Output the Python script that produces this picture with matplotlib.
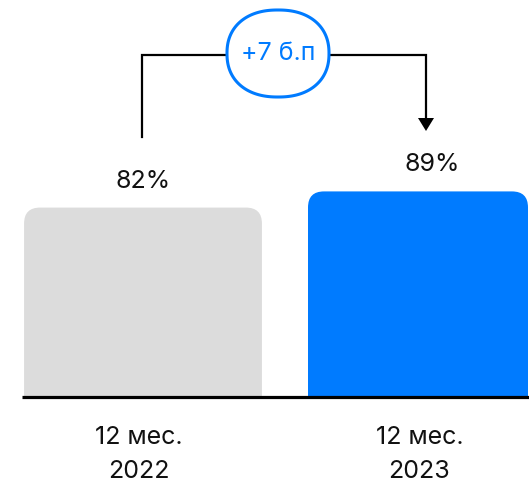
import matplotlib
matplotlib.use("Agg")
import numpy as np
import matplotlib.pyplot as plt
from matplotlib.patches import FancyBboxPatch, Rectangle, Polygon
from matplotlib.transforms import Affine2D

# ---- data ----
categories = ["12 мес.\n2022", "12 мес.\n2023"]
values = [82, 89]
value_labels = ["82%", "89%"]
delta_label = "+7 б.п"

# ---- style ----
colors = ["#DCDCDC", "#007BFF"]
bar_widths = [0.865, 0.80]
label_dx = [0.0, 0.05]
cat_dx = [-0.015, 0.005]
BLUE = "#007BFF"
FONT = ["Inter", "DejaVu Sans"]
FS = 18

W, H = 529, 487
fig = plt.figure(figsize=(W / 100, H / 100), dpi=100)
ax = fig.add_axes([0, 0, 1, 1])
ax.set_axis_off()

px_per_x = 275.0
px_per_y = 2.31
x0_px = 143.0
base_px_from_bottom = 90.0
ax.set_xlim(-x0_px / px_per_x, (W - x0_px) / px_per_x)
ax.set_ylim(-base_px_from_bottom / px_per_y, (H - base_px_from_bottom) / px_per_y)

# pixel transform (x from left, y from top)
pix = Affine2D().scale(1 / W, -1 / H).translate(0, 1) + fig.transFigure

r_px = 16
clip = Rectangle((-5, 0), 10, 500, transform=ax.transData)
for i, (v, c, w) in enumerate(zip(values, colors, bar_widths)):
    rx = r_px / px_per_x
    ry_extra = r_px / px_per_y
    p = FancyBboxPatch((i - w / 2, -ry_extra), w, v + ry_extra,
                       boxstyle=f"round,pad=0,rounding_size={rx}",
                       mutation_aspect=px_per_x / px_per_y,
                       fc=c, ec="none", transform=ax.transData, zorder=2)
    ax.add_patch(p)
    p.set_clip_path(clip)
    ax.text(i + label_dx[i], v + 11.5, value_labels[i], ha="center", va="center",
            fontsize=FS, family=FONT, color="#111111", zorder=5)
    l1, l2 = categories[i].split("\n")
    ax.text(i + cat_dx[i], -41 / px_per_y, l1, ha="center", va="center", fontsize=FS,
            family=FONT, color="#111111")
    ax.text(i + cat_dx[i], -75 / px_per_y, l2, ha="center", va="center", fontsize=FS,
            family=FONT, color="#111111")

# baseline
ax.plot([-(x0_px - 22) / px_per_x, (W - x0_px) / px_per_x], [0, 0],
        color="black", lw=2.3, solid_capstyle="butt", zorder=4)

# bracket
ax.plot([142, 142, 426, 426], [137, 55, 55, 119], color="black", lw=1.6,
        transform=pix, zorder=3, solid_joinstyle="miter")
ax.add_patch(Polygon([(418, 118), (434, 118), (426, 131)], closed=True,
                     fc="black", ec="none", transform=pix, zorder=3))

# bubble (superellipse outline)
cx, cy, a, b, n = 278, 53.5, 51, 43.5, 2.25
t = np.linspace(0, 2 * np.pi, 400)
ct, st = np.cos(t), np.sin(t)
bx = cx + a * np.sign(ct) * np.abs(ct) ** (2 / n)
by = cy + b * np.sign(st) * np.abs(st) ** (2 / n)
ax.add_patch(Polygon(np.column_stack([bx, by]), closed=True, fc="white", ec=BLUE,
                     lw=2.2, transform=pix, zorder=6))
ax.text(cx, 54, delta_label, ha="center", va="center", fontsize=FS,
        family=FONT, color=BLUE, transform=pix, zorder=7)

fig.savefig("out.png", dpi=100)
